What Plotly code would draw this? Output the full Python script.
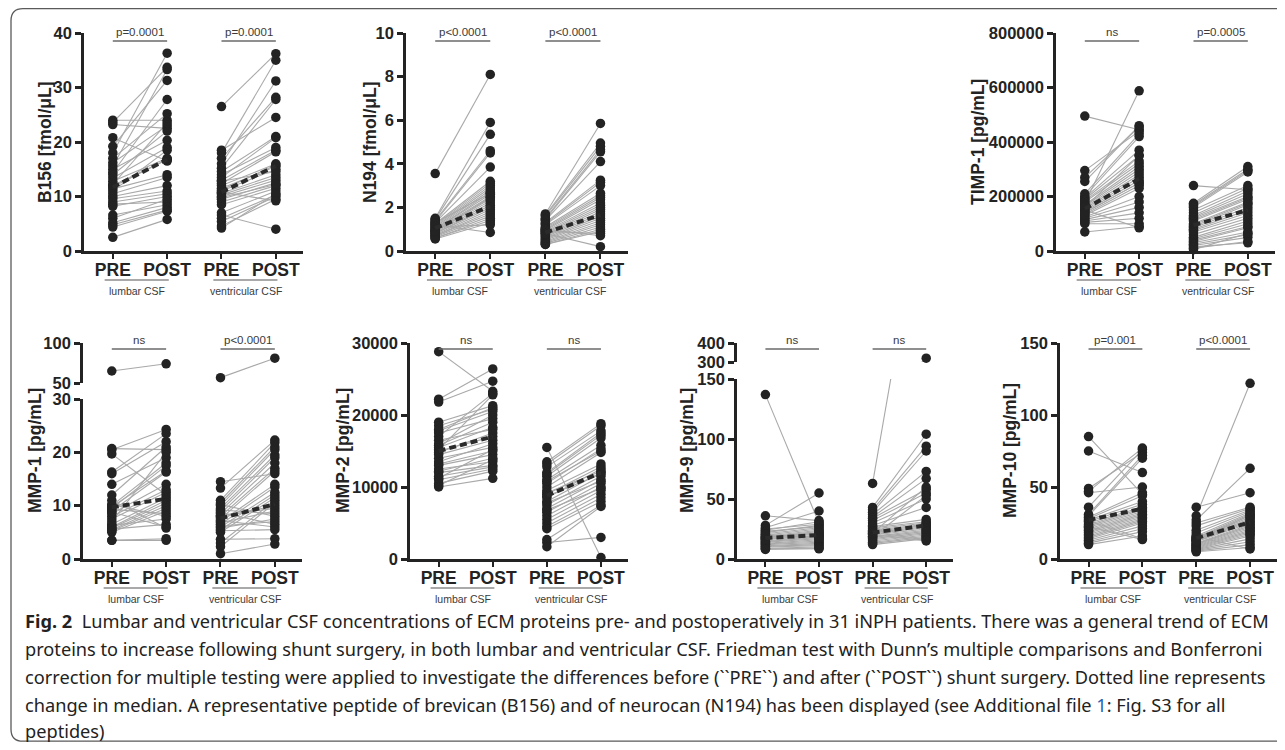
import plotly.graph_objects as go

PAGE_MARGIN = 8
W, H = 1285 - 2 * PAGE_MARGIN, 750 - 2 * PAGE_MARGIN
def fx(px): return min(1.0, max(0.0, (px - PAGE_MARGIN) / W))
def fy(py): return min(1.0, max(0.0, 1 - (py - PAGE_MARGIN) / H))

categories = ["PRE", "POST", "PRE", "POST"]
group_labels = ["lumbar CSF", "ventricular CSF"]

# ---------------- data ----------------
b156_lum_pre  = [24.0, 23.6, 23.2, 20.8, 19.2, 18.0, 17.0, 16.2, 15.6, 15.0, 14.4, 14.0, 13.4, 12.8, 12.2, 12.0, 11.8, 11.4, 11.0, 10.5, 10.0, 9.6, 9.0, 8.6, 8.2, 6.6, 6.0, 5.2, 4.8, 4.4, 2.5]
b156_lum_post = [24.0, 33.7, 22.5, 16.5, 31.3, 36.3, 25.2, 23.0, 33.3, 20.3, 27.8, 22.0, 19.0, 17.0, 23.5, 16.8, 16.8, 14.0, 18.5, 13.5, 12.0, 11.0, 10.5, 9.0, 10.0, 8.5, 9.5, 8.0, 7.5, 7.3, 5.8]
b156_ven_pre  = [26.5, 18.5, 18.0, 17.0, 16.0, 15.2, 14.6, 14.0, 13.5, 13.0, 12.4, 12.0, 11.5, 11.0, 10.6, 10.3, 10.0, 9.5, 9.0, 8.5, 7.0, 6.6, 6.0, 5.4, 4.6, 4.2, 11.2, 12.8, 10.8, 9.8]
b156_ven_post = [36.2, 24.5, 35.0, 28.2, 31.2, 27.8, 21.0, 19.0, 20.8, 18.5, 18.2, 16.0, 15.5, 15.0, 14.0, 13.5, 13.0, 12.5, 12.0, 11.5, 11.0, 4.0, 10.3, 10.0, 9.5, 10.5, 15.8, 14.6, 9.2, 12.2]
b156_median   = [11.7, 16.8, 10.8, 15.6]

n194_lum_pre  = [3.55, 1.5, 1.45, 1.4, 1.35, 1.3, 1.25, 1.2, 1.15, 1.1, 1.05, 1.0, 1.0, 0.95, 0.9, 0.9, 0.85, 0.8, 0.8, 0.75, 0.7, 0.7, 0.65, 0.6, 0.6, 0.55, 1.1, 1.2, 0.9, 1.3]
n194_lum_post = [8.1, 5.9, 5.35, 4.6, 4.5, 3.85, 3.2, 3.1, 3.0, 2.9, 2.8, 2.7, 2.6, 2.5, 2.4, 2.3, 2.2, 2.1, 2.0, 1.9, 1.8, 1.7, 1.6, 1.5, 1.4, 1.3, 1.2, 0.85, 2.45, 2.65]
n194_ven_pre  = [1.7, 1.65, 1.6, 1.5, 1.45, 1.4, 1.3, 1.25, 1.2, 1.1, 1.05, 1.0, 0.95, 0.9, 0.85, 0.8, 0.75, 0.7, 0.65, 0.6, 0.55, 0.5, 0.45, 0.4, 0.35, 0.3, 0.3, 0.9, 1.0, 0.8]
n194_ven_post = [5.85, 4.95, 4.8, 4.65, 4.55, 4.1, 3.25, 3.15, 3.0, 2.65, 2.55, 2.45, 2.35, 2.2, 2.1, 2.0, 1.9, 1.8, 1.7, 1.6, 1.5, 1.4, 1.3, 1.2, 1.1, 1.0, 0.9, 0.8, 0.7, 0.2]
n194_median   = [1.05, 2.05, 0.85, 1.65]

timp_lum_pre  = [495000, 295000, 270000, 255000, 210000, 175000, 200000, 195000, 190000, 185000, 180000, 170000, 165000, 160000, 155000, 150000, 145000, 140000, 135000, 130000, 125000, 120000, 115000, 110000, 105000, 100000, 70000, 150000, 160000, 140000]
timp_lum_post = [445000, 440000, 455000, 460000, 430000, 588000, 420000, 370000, 350000, 330000, 320000, 310000, 300000, 290000, 280000, 270000, 260000, 250000, 240000, 230000, 200000, 180000, 160000, 140000, 120000, 100000, 90000, 85000, 350000, 250000]
timp_ven_pre  = [240000, 175000, 170000, 165000, 160000, 150000, 140000, 130000, 125000, 120000, 115000, 110000, 100000, 95000, 90000, 85000, 80000, 75000, 70000, 60000, 50000, 45000, 40000, 35000, 30000, 25000, 20000, 15000, 10000, 5000]
timp_ven_post = [225000, 310000, 300000, 295000, 290000, 240000, 230000, 220000, 210000, 200000, 195000, 190000, 180000, 175000, 170000, 160000, 150000, 140000, 130000, 120000, 110000, 100000, 90000, 85000, 70000, 60000, 50000, 30000, 35000, 65000]
timp_median   = [155000, 265000, 95000, 150000]

mmp1_lum_pre  = [65.0, 20.7, 20.5, 19.7, 16.3, 16.0, 14.0, 12.0, 10.0, 9.8, 9.5, 9.0, 8.5, 8.0, 7.5, 6.5, 6.0, 5.8, 5.5, 5.3, 5.0, 3.5, 3.5, 9.3, 10.2, 6.3, 5.6, 8.8, 11.0, 7.0]
mmp1_lum_post = [74.0, 20.5, 24.3, 12.0, 23.5, 22.0, 19.0, 21.0, 18.0, 16.5, 17.5, 16.3, 14.0, 13.0, 12.5, 11.5, 11.0, 10.5, 10.0, 9.5, 9.0, 3.5, 3.8, 8.5, 8.0, 7.5, 6.5, 6.0, 5.8, 20.0]
mmp1_ven_pre  = [56.7, 14.5, 13.3, 11.0, 10.5, 10.0, 9.5, 9.0, 8.5, 8.0, 7.5, 7.0, 6.5, 6.0, 5.5, 5.0, 3.7, 3.0, 2.3, 1.0, 7.8, 8.2, 6.8, 9.2, 10.2, 5.8, 6.2, 8.7, 7.2, 5.3]
mmp1_ven_post = [81.0, 16.0, 22.3, 21.8, 21.0, 20.5, 19.5, 19.0, 18.0, 17.0, 16.5, 14.0, 13.5, 12.5, 12.0, 11.5, 3.8, 11.0, 10.5, 2.8, 10.0, 9.5, 9.0, 8.5, 8.0, 7.5, 7.0, 6.5, 6.0, 5.5]
mmp1_median   = [9.7, 11.3, 7.6, 10.3]

mmp2_lum_pre  = [28800, 22200, 21800, 19000, 18500, 18000, 17500, 17000, 16000, 15500, 15200, 15000, 14500, 14000, 13500, 13000, 12500, 12000, 11500, 11000, 10500, 10000, 10200, 13200, 14800, 16500, 12200, 11200, 15800, 17800]
mmp2_lum_post = [23300, 26400, 24700, 21300, 20800, 21000, 19500, 23000, 20000, 18300, 22800, 17000, 16500, 15500, 16000, 14500, 13500, 13000, 12800, 12500, 12200, 11200, 13800, 15000, 17500, 18000, 14000, 15200, 19000, 20500]
mmp2_ven_pre  = [15500, 13500, 13200, 12800, 11800, 11500, 11000, 10500, 10000, 9500, 9000, 8500, 8000, 7500, 7000, 6500, 6000, 5500, 5000, 4500, 4200, 2700, 2300, 1700, 9200, 8700, 7800, 10800, 12000, 6800]
mmp2_ven_post = [200, 18800, 18500, 17800, 17200, 16800, 15800, 15300, 14800, 13200, 12800, 12500, 12000, 11500, 11000, 10500, 10000, 9500, 9000, 8500, 8000, 7500, 3000, 7300, 12200, 11800, 10800, 15000, 17500, 9800]
mmp2_median   = [15000, 17000, 8800, 12000]

mmp9_lum_pre  = [137, 36, 28, 26, 25, 24, 23, 22, 21, 20, 19, 18, 17.5, 17, 16, 15, 14.5, 14, 13, 12.5, 12, 11, 10.5, 10, 9, 8.5, 8, 16.5, 18.5, 20.5]
mmp9_lum_post = [30, 32, 55, 40, 29, 31, 27, 28, 26, 25, 24, 23, 22, 21, 20, 19, 18, 17, 16, 15, 14, 13, 12, 11, 10, 9, 8.5, 19.5, 21.5, 17.5]
mmp9_ven_pre  = [63, 43, 41, 39, 37, 35, 34, 32, 30, 28, 27, 26, 25, 24, 23, 22, 21, 20, 19, 18, 17, 16, 15, 14, 13, 12, 22.5, 20.5, 18.5, 21.5]
mmp9_ven_post = [320, 104, 94, 90, 73, 67, 58, 55, 50, 43, 33, 31, 30, 29, 28, 27, 26, 25, 24, 23, 22, 21, 20, 19, 18, 17, 16, 15, 53, 60]
mmp9_median   = [17.5, 20.0, 22.0, 28.0]

mmp10_lum_pre  = [85, 75, 49, 47, 46, 36, 31, 30, 29, 28, 27, 26, 25, 24, 23, 22, 21, 20, 19, 18, 17, 16, 15, 14, 13, 12, 11, 10, 26.5, 22.5]
mmp10_lum_post = [45, 60, 74, 77, 50, 76, 72, 70, 46, 44, 40, 38, 36, 35, 34, 33, 32, 31, 30, 29, 28, 27, 26, 25, 23, 21, 19, 16, 14, 13.5]
mmp10_ven_pre  = [36, 30, 27, 25, 23, 20, 18, 16, 15, 14.5, 14, 13.5, 13, 12.5, 12, 11, 10.5, 10, 9.5, 9, 8.5, 8, 7.5, 7, 6.5, 6, 5.5, 5, 15.5, 12.8]
mmp10_ven_post = [46, 122, 63, 36, 35, 34, 33, 32, 31, 30, 29, 28, 27, 26, 25, 24, 23, 22, 21, 20, 19, 18, 17, 16, 14, 12, 10, 8, 7, 30.5]
mmp10_median   = [27.0, 35.0, 14.5, 25.5]

# ---------------- panel layout (styling/positions, page pixels) ----------------
panels = [
    dict(title="B156 [fmol/μL]", x0=84, x1=303, tx=45, row="top",
         data=(b156_lum_pre, b156_lum_post, b156_ven_pre, b156_ven_post, b156_median),
         lo=dict(rng=[0, 40], ticks=[0, 10, 20, 30, 40]), pv=["p=0.0001", "p=0.0001"]),
    dict(title="N194 [fmol/μL]", x0=406, x1=628, tx=370, row="top",
         data=(n194_lum_pre, n194_lum_post, n194_ven_pre, n194_ven_post, n194_median),
         lo=dict(rng=[0, 10], ticks=[0, 2, 4, 6, 8, 10]), pv=["p<0.0001", "p<0.0001"]),
    dict(title="TIMP-1 [pg/mL]", x0=1056, x1=1275, tx=978, row="top",
         data=(timp_lum_pre, timp_lum_post, timp_ven_pre, timp_ven_post, timp_median),
         lo=dict(rng=[0, 800000], ticks=[0, 200000, 400000, 600000, 800000]), pv=["ns", "p=0.0005"]),
    dict(title="MMP-1 [pg/mL]", x0=83, x1=302, tx=35, row="bot",
         data=(mmp1_lum_pre, mmp1_lum_post, mmp1_ven_pre, mmp1_ven_post, mmp1_median),
         lo=dict(rng=[0, 30], ticks=[0, 10, 20, 30], py=(559, 399)),
         hi=dict(rng=[50, 100], ticks=[50, 100], py=(383, 343)), pv=["ns", "p<0.0001"]),
    dict(title="MMP-2 [pg/mL]", x0=410, x1=628, tx=343, row="bot",
         data=(mmp2_lum_pre, mmp2_lum_post, mmp2_ven_pre, mmp2_ven_post, mmp2_median),
         lo=dict(rng=[0, 30000], ticks=[0, 10000, 20000, 30000]), pv=["ns", "ns"]),
    dict(title="MMP-9 [pg/mL]", x0=737, x1=953, tx=687, row="bot",
         data=(mmp9_lum_pre, mmp9_lum_post, mmp9_ven_pre, mmp9_ven_post, mmp9_median),
         lo=dict(rng=[0, 150], ticks=[0, 50, 100, 150], py=(559, 379)),
         hi=dict(rng=[300, 400], ticks=[300, 400], py=(362, 343)), pv=["ns", "ns"]),
    dict(title="MMP-10 [pg/mL]", x0=1060, x1=1277, tx=1010, row="bot",
         data=(mmp10_lum_pre, mmp10_lum_post, mmp10_ven_pre, mmp10_ven_post, mmp10_median),
         lo=dict(rng=[0, 150], ticks=[0, 50, 100, 150]), pv=["p=0.001", "p<0.0001"]),
]

ROWS = {"top": dict(y0=251, y1=33, bracket=41, ptext=32, uline=280, glab=291),
        "bot": dict(y0=559, y1=343, bracket=349, ptext=340, uline=588, glab=599)}

INK = "#232323"
GRAY = "#a9a9a9"
AXFONT = "Liberation Sans"
XR = [-0.53, 3.5]

fig = go.Figure()
layout = dict(width=W, height=H, margin=dict(l=0, r=0, t=0, b=0, pad=0, autoexpand=False),
              autosize=False, paper_bgcolor="white", plot_bgcolor="white", showlegend=False)
shapes, annots = [], []

def fmt_ticks(vals):
    return [str(int(v)) for v in vals]

yid = 0
for i, p in enumerate(panels, start=1):
    row = ROWS[p["row"]]
    xname = "x" if i == 1 else f"x{i}"
    xkey = "xaxis" if i == 1 else f"xaxis{i}"
    segs = [p["lo"]] + ([p["hi"]] if "hi" in p else [])
    ynames = []
    for k, s in enumerate(segs):
        yid += 1
        yname = "y" if yid == 1 else f"y{yid}"
        ykey = "yaxis" if yid == 1 else f"yaxis{yid}"
        py = s.get("py", (row["y0"], row["y1"]))
        layout[ykey] = dict(domain=[fy(py[0]), fy(py[1])], range=s["rng"], anchor=xname,
                            automargin=False, tickvals=s["ticks"], ticktext=fmt_ticks(s["ticks"]),
                            showline=True, linewidth=2.6, linecolor=INK, ticks="outside",
                            ticklen=6, tickwidth=2.6, tickcolor=INK, showgrid=False, zeroline=False,
                            tickfont=dict(family=AXFONT, size=16.5, color=INK, weight="bold"))
        ynames.append((yname, s))
    layout[xkey] = dict(domain=[fx(p["x0"]), fx(p["x1"])], range=XR, anchor=ynames[0][0],
                        automargin=False, tickvals=[0, 1, 2, 3], ticktext=categories,
                        showline=True, linewidth=2.6, ticklabelstandoff=-4,
                        linecolor=INK, ticks="outside", ticklen=5, tickwidth=2, tickcolor=INK,
                        showgrid=False, zeroline=False,
                        tickfont=dict(family=AXFONT, size=17.5, color=INK, weight="bold"))

    lpre, lpost, vpre, vpost, med = p["data"]
    for (pre, post, xa, xb) in [(lpre, lpost, 0, 1), (vpre, vpost, 2, 3)]:
        pairs = list(zip(pre, post))
        lx, ly = [], []
        for a, b in pairs:
            lx += [xa, xb, None]
            ly += [a, b, None]
        for yname, s in ynames:
            fig.add_trace(go.Scatter(x=lx, y=ly, mode="lines", xaxis=xname, yaxis=yname,
                                     line=dict(color=GRAY, width=1.1), hoverinfo="skip",
                                     cliponaxis=True))
        for yname, s in ynames:
            lo_v, hi_v = s["rng"]
            mx, my = [], []
            for a, b in pairs:
                if lo_v <= a <= hi_v:
                    mx.append(xa); my.append(a)
                if lo_v <= b <= hi_v:
                    mx.append(xb); my.append(b)
            fig.add_trace(go.Scatter(x=mx, y=my, mode="markers", xaxis=xname, yaxis=yname,
                                     marker=dict(color=INK, size=9.5, line=dict(width=0)),
                                     hoverinfo="skip", cliponaxis=False))
    # median dashed lines
    for (xa, xb, ma, mb) in [(0, 1, med[0], med[1]), (2, 3, med[2], med[3])]:
        fig.add_trace(go.Scatter(x=[xa, xb], y=[ma, mb], mode="lines", xaxis=xname,
                                 yaxis=ynames[0][0],
                                 line=dict(color="#2a2a2a", width=4, dash="7px,4px"),
                                 hoverinfo="skip"))

    # brackets + p values, underlines + group labels
    for g, (xa, xb) in enumerate([(0, 1), (2, 3)]):
        shapes.append(dict(type="line", xref=xname, yref="paper", x0=xa, x1=xb,
                           y0=fy(row["bracket"]), y1=fy(row["bracket"]),
                           line=dict(color="#6a6a6a", width=1.6)))
        annots.append(dict(xref=xname, yref="paper", x=(xa + xb) / 2, y=fy(row["ptext"]),
                           text=p["pv"][g], showarrow=False, xanchor="center", yanchor="middle",
                           font=dict(family=AXFONT, size=11.5, color="#3a3a3a")))
        shapes.append(dict(type="line", xref=xname, yref="paper", x0=xa - 0.15, x1=xb + 0.03,
                           y0=fy(row["uline"]), y1=fy(row["uline"]),
                           line=dict(color="#555555", width=1.1)))
        annots.append(dict(xref=xname, yref="paper", x=(xa + xb) / 2 - 0.05, y=fy(row["glab"]),
                           text=group_labels[g], showarrow=False, xanchor="center", yanchor="middle",
                           font=dict(family=AXFONT, size=10.5, color="#3a3a3a")))
    # y-axis title
    annots.append(dict(xref="paper", yref="paper", x=fx(p["tx"]),
                       y=fy((row["y0"] + row["y1"]) / 2), text="<b>" + p["title"] + "</b>",
                       textangle=-90, showarrow=False, xanchor="center", yanchor="middle",
                       font=dict(family=AXFONT, size=17.5, color=INK)))

# caption
caption_lines = [
    "<b>Fig. 2</b>  Lumbar and ventricular CSF concentrations of ECM proteins pre- and postoperatively in 31 iNPH patients. There was a general trend of ECM",
    "proteins to increase following shunt surgery, in both lumbar and ventricular CSF. Friedman test with Dunn’s multiple comparisons and Bonferroni",
    "correction for multiple testing were applied to investigate the differences before (``PRE``) and after (``POST``) shunt surgery. Dotted line represents",
    "change in median. A representative peptide of brevican (B156) and of neurocan (N194) has been displayed (see Additional file <span style='color:#2f5fb3'>1</span>: Fig. S3 for all",
    "peptides)",
]
caption_y = [621, 649, 677, 705, 731]
for t, yy in zip(caption_lines, caption_y):
    annots.append(dict(xref="paper", yref="paper", x=fx(23), y=fy(yy), text=t, showarrow=False,
                       xanchor="left", yanchor="middle",
                       font=dict(family="Noto Sans", size=18.2, color="#222222")))

# rounded border of the card
r = 12
x0, y0, y1 = 11, 8.7, 741.2
path = (f"M {fx(x0)},{fy(y0 + r)} Q {fx(x0)},{fy(y0)} {fx(x0 + r)},{fy(y0)} L 1.01,{fy(y0)} "
        f"L 1.01,{fy(y1)} L {fx(x0 + r)},{fy(y1)} Q {fx(x0)},{fy(y1)} {fx(x0)},{fy(y1 - r)} Z")
shapes.append(dict(type="path", xref="paper", yref="paper", path=path,
                   line=dict(color="#5a5a5a", width=1.3)))

layout["shapes"] = shapes
layout["annotations"] = annots
fig.update_layout(**layout)
fig.write_html("out.html")
